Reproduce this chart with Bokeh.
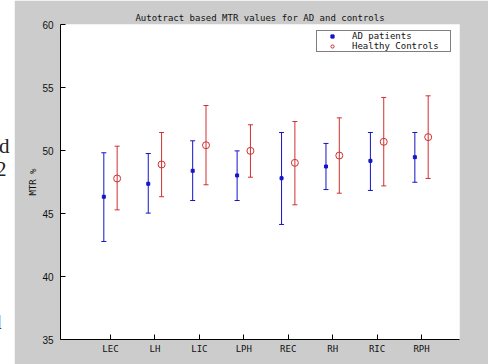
from bokeh.plotting import figure
from bokeh.layouts import row
from bokeh.models import (ColumnDataSource, Whisker, TeeHead, Range1d, FixedTicker,
                          Legend, LegendItem, Div)
from bokeh.embed import file_html
from bokeh.resources import INLINE

regions = ["LEC", "LH", "LIC", "LPH", "REC", "RH", "RIC", "RPH"]
ad_mean = [46.33, 47.36, 48.39, 48.02, 47.80, 48.73, 49.18, 49.47]
ad_upper = [49.82, 49.76, 50.77, 49.97, 51.43, 50.56, 51.43, 51.43]
ad_lower = [42.78, 45.03, 46.03, 46.03, 44.13, 46.90, 46.83, 47.48]
hc_mean = [47.78, 48.89, 50.42, 49.97, 49.02, 49.60, 50.69, 51.06]
hc_upper = [50.34, 51.43, 53.57, 52.04, 52.30, 52.59, 54.21, 54.34]
hc_lower = [45.29, 46.33, 47.28, 47.88, 45.69, 46.61, 47.19, 47.78]
y_ticks = [35, 40, 45, 50, 55, 60]

idx = list(range(1, len(regions) + 1))
offset = 0.15
BLUE = "#1414c8"
RED = "#d03030"
MONO = "DejaVu Sans Mono"

ad_src = ColumnDataSource(dict(x=[i - offset for i in idx], y=ad_mean,
                               upper=ad_upper, lower=ad_lower))
hc_src = ColumnDataSource(dict(x=[i + offset for i in idx], y=hc_mean,
                               upper=hc_upper, lower=hc_lower))

p = figure(width=474, height=364, output_backend="svg", toolbar_location=None,
           x_range=Range1d(-0.125, 8.855), y_range=Range1d(35, 60),
           min_border_left=46, min_border_right=29, min_border_top=24,
           min_border_bottom=25)
p.border_fill_color = "#cccccc"
p.background_fill_color = "white"
p.outline_line_color = None
p.grid.visible = False

p.title.text = "Autotract based MTR values for AD and controls"
p.title.align = "center"
p.title.text_font = MONO
p.title.text_font_size = "9px"
p.title.text_font_style = "normal"
p.title.text_color = "#111111"
p.title.standoff = 3

for ax in (p.xaxis[0], p.yaxis[0]):
    ax.axis_line_color = "black"
    ax.major_tick_in = 5
    ax.major_tick_out = 0
    ax.minor_tick_line_color = None
    ax.major_tick_line_color = "black"
    ax.major_label_text_color = "#111111"
    ax.major_label_text_font_size = "9px"

p.xaxis.ticker = FixedTicker(ticks=idx)
p.xaxis.major_label_overrides = {i: r for i, r in zip(idx, regions)}
p.xaxis.major_label_text_font = MONO
p.xaxis.major_label_standoff = 4

p.yaxis.ticker = FixedTicker(ticks=y_ticks)
p.yaxis.major_label_text_font = "Liberation Sans"
p.yaxis.major_label_text_font_size = "10px"
p.yaxis.major_label_standoff = 7
p.yaxis.axis_label = "MTR %"
p.yaxis.axis_label_text_font = MONO
p.yaxis.axis_label_text_font_size = "9px"
p.yaxis.axis_label_text_font_style = "normal"
p.yaxis.axis_label_text_color = "#111111"
p.yaxis.axis_label_standoff = 1

for src, col in ((ad_src, BLUE), (hc_src, RED)):
    w = Whisker(base="x", upper="upper", lower="lower", source=src,
                line_color=col, line_width=1,
                upper_head=TeeHead(size=5, line_color=col, line_width=1),
                lower_head=TeeHead(size=5, line_color=col, line_width=1))
    p.add_layout(w)

r_ad = p.scatter("x", "y", source=ad_src, marker="square", size=3,
                 fill_color=BLUE, line_color=BLUE)
r_hc = p.scatter("x", "y", source=hc_src, marker="circle", size=7,
                 fill_color=None, line_color=RED, line_width=1)

legend = Legend(items=[LegendItem(label="AD patients", renderers=[r_ad]),
                       LegendItem(label="Healthy Controls", renderers=[r_hc])],
                location=(256, 287))
legend.label_text_font = MONO
legend.label_text_font_size = "9px"
legend.label_text_color = "#111111"
legend.label_height = 8
legend.glyph_height = 8
legend.glyph_width = 30
legend.label_width = 98
legend.label_standoff = 5
legend.spacing = -2
legend.padding = 0
legend.margin = 0
legend.border_line_color = "black"
legend.border_line_width = 1
legend.background_fill_color = "white"
legend.background_fill_alpha = 1
p.add_layout(legend)

strip = Div(width=14, height=364,
            text=('<div style="position:relative;width:14px;height:364px;overflow:hidden;'
                  'background:white;font-family:\'Liberation Serif\';font-size:21px;'
                  'line-height:1;color:#222;">'
                  '<span style="position:absolute;left:-1px;top:136px;">d</span>'
                  '<span style="position:absolute;left:-4px;top:159px;">2</span>'
                  '<span style="position:absolute;left:-9px;top:312px;">d</span>'
                  '</div>'),
            styles={"margin": "0", "padding": "0"})

layout = row(strip, p, spacing=0)
open("out.html", "w").write(file_html(layout, INLINE))
